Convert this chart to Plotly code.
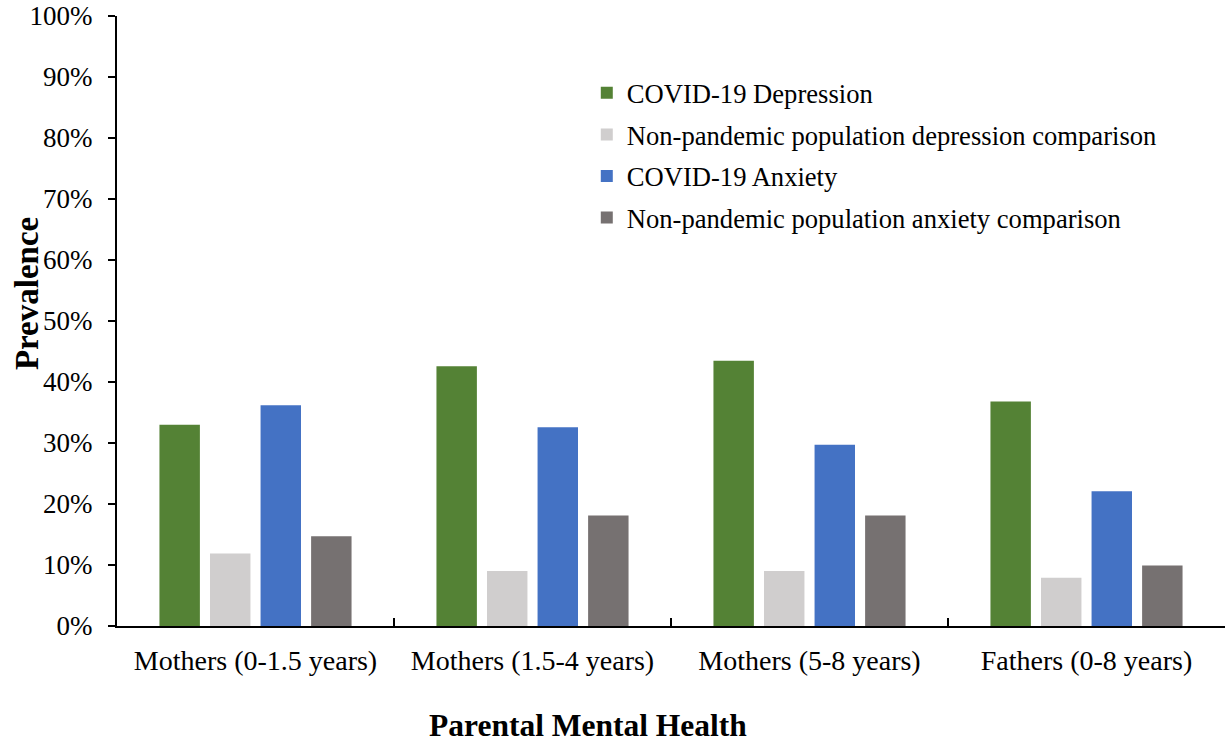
import plotly.graph_objects as go

categories = ["Mothers (0-1.5 years)", "Mothers (1.5-4 years)", "Mothers (5-8 years)", "Fathers (0-8 years)"]
covid_depression = [0.330, 0.426, 0.435, 0.368]
nonpandemic_depression = [0.119, 0.090, 0.090, 0.079]
covid_anxiety = [0.362, 0.326, 0.297, 0.221]
nonpandemic_anxiety = [0.147, 0.181, 0.181, 0.099]

series_names = ["COVID-19 Depression", "Non-pandemic population depression comparison",
                "COVID-19 Anxiety", "Non-pandemic population anxiety comparison"]
series_values = [covid_depression, nonpandemic_depression, covid_anxiety, nonpandemic_anxiety]
series_colors = ["#548235", "#D0CECE", "#4472C4", "#767171"]

FONT = "Liberation Serif"

fig = go.Figure()
for i, (name, vals, col) in enumerate(zip(series_names, series_values, series_colors)):
    fig.add_trace(go.Bar(x=categories, y=vals, name=name, marker_color=col,
                         marker_line_width=0, legendgroup=f"g{i}"))

fig.update_layout(
    width=1227, height=742,
    paper_bgcolor="white", plot_bgcolor="white",
    margin=dict(l=117, r=2, t=16, b=116, autoexpand=False),
    barmode="group", bargap=0.27, bargroupgap=0.2,
    font=dict(family=FONT, color="black", size=26.6),
    legend=dict(x=0.424, y=0.913, xanchor="left", yanchor="top",
                font=dict(family=FONT, size=26.6, color="black"),
                traceorder="grouped", tracegroupgap=4,
                bgcolor="rgba(0,0,0,0)"),
    showlegend=True,
    annotations=[
        dict(text="<b>Prevalence</b>", xref="paper", yref="paper", x=-0.081, y=0.5445,
             xanchor="center", yanchor="middle", textangle=-90, showarrow=False,
             font=dict(family=FONT, size=33, color="black")),
        dict(text="<b>Parental Mental Health</b>", xref="paper", yref="paper", x=0.425, y=-0.163,
             xanchor="center", yanchor="middle", showarrow=False,
             font=dict(family=FONT, size=31.5, color="black")),
    ],
)
fig.update_yaxes(range=[0, 1], dtick=0.1, tickformat=".0%", automargin=False,
                 showgrid=False, zeroline=False,
                 showline=True, linecolor="black", linewidth=2,
                 ticks="outside", ticklen=7, tickwidth=2, tickcolor="black",
                 ticklabelstandoff=10, ticklabeloverflow="allow",
                 tickfont=dict(family=FONT, size=27, color="black"))
fig.update_xaxes(showgrid=False, showline=True, linecolor="black", linewidth=2, automargin=False,
                 ticks="inside", tickson="boundaries", ticklen=8, tickwidth=2, tickcolor="black",
                 ticklabelstandoff=8, ticklabeloverflow="allow",
                 tickfont=dict(family=FONT, size=28, color="black"))

fig.write_html("out.html", config={"displayModeBar": False},
               post_script="document.body.style.margin='0';")
